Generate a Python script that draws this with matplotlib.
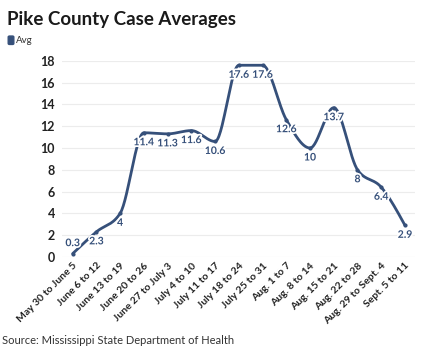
import numpy as np
import matplotlib
matplotlib.use('Agg')
import matplotlib.pyplot as plt
import matplotlib.patheffects as pe
from matplotlib.patches import FancyBboxPatch

weeks = ['May 30 to June 5', 'June 6 to 12', 'June 13 to 19', 'June 20 to 26',
         'June 27 to July 3', 'July 4 to 10', 'July 11 to 17', 'July 18 to 24',
         'July 25 to 31', 'Aug. 1 to 7', 'Aug. 8 to 14', 'Aug. 15 to 21',
         'Aug. 22 to 28', 'Aug. 29 to Sept. 4', 'Sept. 5 to 11']
avg = [0.3, 2.3, 4, 11.4, 11.3, 11.6, 10.6, 17.6, 17.6, 12.6, 10, 13.7, 8, 6.4, 2.9]
labels = ['0.3', '2.3', '4', '11.4', '11.3', '11.6', '10.6', '17.6', '17.6',
          '12.6', '10', '13.7', '8', '6.4', '2.9']

blue = '#36507a'
plt.rcParams['font.family'] = ['Lato', 'DejaVu Sans']


def monotone_curve(y, steps=30):
    # monotone cubic (same idea as d3 curveMonotoneX), x spacing = 1
    y = np.asarray(y, dtype=float)
    n = len(y)
    s = np.diff(y)
    t = np.zeros(n)
    for i in range(1, n - 1):
        p = (s[i - 1] + s[i]) / 2
        t[i] = (np.sign(s[i - 1]) + np.sign(s[i])) * min(abs(s[i - 1]), abs(s[i]), 0.5 * abs(p))
    t[0] = (3 * s[0] - t[1]) / 2
    t[-1] = (3 * s[-1] - t[-2]) / 2
    xs, ys = [], []
    for i in range(n - 1):
        u = np.linspace(0, 1, steps, endpoint=False)
        h00 = 2 * u**3 - 3 * u**2 + 1
        h10 = u**3 - 2 * u**2 + u
        h01 = -2 * u**3 + 3 * u**2
        h11 = u**3 - u**2
        xs.extend(i + u)
        ys.extend(h00 * y[i] + h10 * t[i] + h01 * y[i + 1] + h11 * t[i + 1])
    xs.append(n - 1)
    ys.append(y[-1])
    return np.array(xs), np.array(ys)


fig = plt.figure(figsize=(4.32, 3.5), dpi=100)
ax = fig.add_axes([0.1435, 0.266, 0.817, 0.56])

x = np.arange(len(avg))
cx, cy = monotone_curve(avg)
ax.plot(cx, cy, color=blue, lw=2.0, solid_capstyle='round', zorder=3)
ax.plot(x, avg, 'o', color=blue, ms=2, zorder=4)

halo = [pe.withStroke(linewidth=2.5, foreground='white')]
for i, (v, lab) in enumerate(zip(avg, labels)):
    dy = 10 if i == 0 else -10
    ax.annotate(lab, (i, v), xytext=(0, dy), textcoords='offset pixels',
                ha='center', va='center', fontsize=7.5, fontweight='bold', color=blue,
                zorder=5, path_effects=halo)

ax.set_xlim(-0.45, 14.42)
ax.set_ylim(0, 18)
ax.set_yticks(range(0, 19, 2))
ax.set_xticks(x)
ax.set_xticklabels(weeks, rotation=45, ha='right', rotation_mode='anchor',
                   fontsize=7.5, fontweight='bold', color='#222222')
for lab in ax.get_yticklabels():
    lab.set_fontweight('bold')
    lab.set_fontsize(9)
    lab.set_color('#222222')
ax.tick_params(length=0, pad=5)
ax.tick_params(axis='x', pad=3)
for sp in ax.spines.values():
    sp.set_visible(False)
ax.grid(axis='y', color='#ececec', lw=0.8)
ax.set_axisbelow(True)

fig.text(0.016, 0.945, 'Pike County Case Averages', fontsize=13.5, fontweight='bold',
         color='#1a1a1a', va='center', ha='left')
fig.patches.append(FancyBboxPatch((0.019, 0.873), 0.013, 0.024, boxstyle='round,pad=0,rounding_size=0.003',
                                  transform=fig.transFigure, color=blue, figure=fig))
fig.text(0.038, 0.885, 'Avg', fontsize=7, color='#333333', va='center', ha='left')
fig.text(0.005, 0.012, 'Source: Mississippi State Department of Health', fontsize=8,
         color='#333333', va='bottom', ha='left')

fig.savefig('out.png', dpi=100)
